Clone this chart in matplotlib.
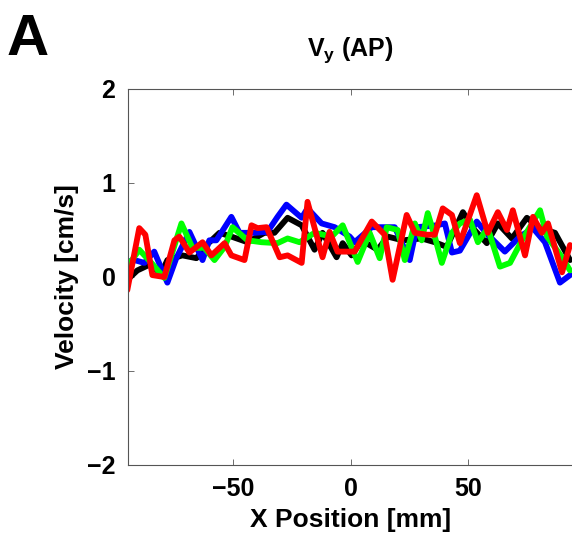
import matplotlib
matplotlib.use('Agg')
import matplotlib.pyplot as plt

plt.rcParams['font.family'] = ['Liberation Sans', 'DejaVu Sans']
plt.rcParams['mathtext.fontset'] = 'custom'
plt.rcParams['mathtext.rm'] = 'Liberation Sans'
plt.rcParams['mathtext.bf'] = 'Liberation Sans:bold'

# x positions in mm, velocity in cm/s
black_x = [-95.3, -91.0, -85.9, -80.8, -78.2, -71.8, -65.8, -61.5, -56.0, -50.9,
           -44.0, -36.8, -32.5, -26.9, -20.9, -15.4, -12.0, -6.0, -3.4, 0.4,
           4.7, 11.5, 15.8, 22.2, 30.3, 35.9, 41.0, 47.9, 52.1, 58.1,
           62.8, 68.8, 75.2, 80.8, 87.2, 93.6]
black_y = [-0.03, 0.07, 0.13, 0.04, 0.18, 0.23, 0.20, 0.34, 0.47, 0.43,
           0.37, 0.47, 0.47, 0.63, 0.55, 0.29, 0.47, 0.21, 0.36, 0.23,
           0.39, 0.29, 0.43, 0.39, 0.41, 0.37, 0.32, 0.69, 0.52, 0.36,
           0.57, 0.41, 0.63, 0.52, 0.47, 0.18]

blue_x = [-95.3, -92.3, -88.0, -83.8, -78.2, -74.4, -68.8, -63.2, -60.3, -57.3,
          -50.9, -47.4, -41.0, -35.5, -31.2, -27.4, -20.9, -18.4, -12.4, -6.8,
          -0.4, 1.7, 9.0, 18.8, 25.2, 28.2, 36.8, 40.2, 43.2, 46.6,
          53.8, 58.5, 65.8, 72.2, 77.8, 82.9, 89.3, 93.6]
blue_y = [0.16, 0.18, 0.15, 0.27, -0.06, 0.20, 0.48, 0.18, 0.39, 0.39,
          0.64, 0.47, 0.47, 0.48, 0.64, 0.77, 0.63, 0.73, 0.57, 0.53,
          0.43, 0.37, 0.53, 0.53, 0.18, 0.53, 0.55, 0.57, 0.26, 0.28,
          0.59, 0.45, 0.27, 0.43, 0.52, 0.37, -0.06, 0.02]

green_x = [-95.3, -90.2, -85.0, -79.5, -72.2, -67.5, -62.4, -58.1, -53.8, -50.4,
           -44.0, -38.0, -31.2, -26.9, -21.8, -15.4, -8.1, -3.4, 3.0, 8.1,
           12.4, 15.4, 20.1, 23.1, 27.4, 30.3, 32.9, 35.9, 38.9, 43.2,
           46.6, 50.9, 54.3, 58.5, 63.7, 68.0, 73.5, 80.8, 83.8, 90.2, 93.6]
green_y = [0.11, 0.29, 0.15, -0.01, 0.57, 0.31, 0.31, 0.18, 0.32, 0.53,
           0.39, 0.37, 0.36, 0.41, 0.37, 0.47, 0.43, 0.55, 0.16, 0.47,
           0.20, 0.53, 0.50, 0.18, 0.57, 0.39, 0.68, 0.43, 0.15, 0.47,
           0.57, 0.61, 0.37, 0.52, 0.11, 0.15, 0.41, 0.71, 0.43, 0.21, 0.07]

red_x = [-95.3, -90.2, -87.6, -84.6, -79.5, -75.2, -73.1, -68.8, -63.2, -59.4,
         -53.8, -50.9, -45.3, -42.3, -39.7, -35.9, -30.3, -26.9, -20.9, -18.4,
         -12.0, -9.0, -5.6, -0.4, 1.7, 9.0, 14.5, 17.9, 23.9, 27.4,
         32.5, 35.9, 39.3, 43.2, 46.6, 53.8, 58.5, 62.8, 66.7, 69.2,
         74.4, 77.8, 81.6, 84.2, 90.2, 93.6]
red_y = [-0.14, 0.52, 0.45, 0.02, 0.00, 0.39, 0.43, 0.26, 0.37, 0.23,
         0.36, 0.23, 0.18, 0.55, 0.52, 0.53, 0.21, 0.23, 0.15, 0.80,
         0.21, 0.48, 0.27, 0.27, 0.27, 0.59, 0.45, -0.03, 0.66, 0.47,
         0.45, 0.45, 0.73, 0.66, 0.36, 0.87, 0.47, 0.69, 0.50, 0.71,
         0.23, 0.64, 0.47, 0.57, 0.05, 0.34]

x_ticks = [-50, 0, 50]
y_ticks = [-2, -1, 0, 1, 2]

fig = plt.figure(figsize=(5.72, 5.47), dpi=100)
ax = fig.add_axes([128 / 572, 82 / 547, 445.3 / 572, 376 / 547])

series = [(black_x, black_y, 'black'), (blue_x, blue_y, '#0000ff'),
          (green_x, green_y, '#00ff00'), (red_x, red_y, '#ff0000')]
for xs, ys, c in series:
    ax.plot(xs, ys, color=c, linewidth=4.2, solid_joinstyle='round',
            solid_capstyle='round')

ax.set_xlim(-95, 95)
ax.set_ylim(-2, 2)
ax.set_xticks(x_ticks)
ax.set_yticks(y_ticks)
ax.tick_params(direction='in', length=4, width=0.6, color='#555555',
               labelsize=18, top=True, right=False, pad=9)
for lab in ax.get_xticklabels() + ax.get_yticklabels():
    lab.set_fontweight('bold')
ax.spines['right'].set_visible(False)
for s in ['left', 'top', 'bottom']:
    ax.spines[s].set_color('#555555')
    ax.spines[s].set_linewidth(0.8)

ax.set_xlabel('X Position [mm]', fontsize=19, fontweight='bold', labelpad=5)
ax.set_ylabel('Velocity [cm/s]', fontsize=19, fontweight='bold', labelpad=6)
ax.text(0.5, 1.088, r'$\mathbf{V_y}$ (AP)', transform=ax.transAxes,
        ha='center', va='baseline', fontsize=18, fontweight='bold')
fig.text(0.012, 0.90, 'A', fontsize=42, fontweight='bold', va='baseline')

fig.savefig('out.png', dpi=100, facecolor='white')
